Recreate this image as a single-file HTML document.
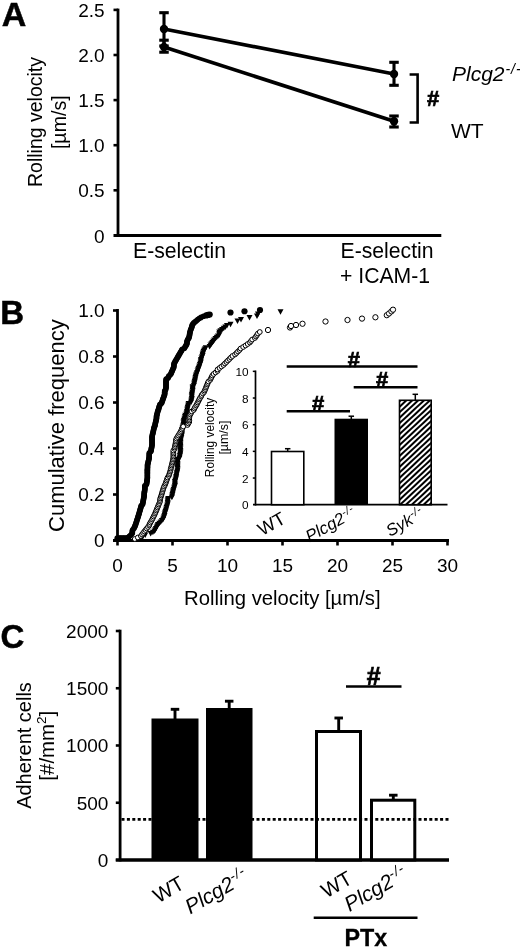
<!DOCTYPE html>
<html><head><meta charset="utf-8"><title>Figure</title>
<style>html,body{margin:0;padding:0;background:#fff;}svg{display:block;}</style>
</head><body>
<svg width="520" height="949" viewBox="0 0 520 949" font-family='"Liberation Sans", Arial, Helvetica, sans-serif' fill="#000">
<defs><filter id="soft" x="0" y="0" width="100%" height="100%" filterUnits="userSpaceOnUse"><feGaussianBlur stdDeviation="0.45"/></filter></defs>
<rect width="520" height="949" fill="#fff"/>
<g filter="url(#soft)">
<text x="1.80" y="25.90" font-size="34" text-anchor="start" font-weight="bold" font-style="normal" stroke="#000" stroke-width="0.5">A</text>
<line x1="118.00" y1="8.60" x2="118.00" y2="236.80" stroke="#000" stroke-width="2.8" />
<line x1="113.50" y1="235.40" x2="441.30" y2="235.40" stroke="#000" stroke-width="3" />
<text x="104.60" y="242.50" font-size="19" text-anchor="end" font-weight="normal" font-style="normal" >0</text>
<line x1="113.50" y1="190.30" x2="118.00" y2="190.30" stroke="#000" stroke-width="2.6" />
<text x="104.60" y="197.40" font-size="19" text-anchor="end" font-weight="normal" font-style="normal" >0.5</text>
<line x1="113.50" y1="145.20" x2="118.00" y2="145.20" stroke="#000" stroke-width="2.6" />
<text x="104.60" y="152.30" font-size="19" text-anchor="end" font-weight="normal" font-style="normal" >1.0</text>
<line x1="113.50" y1="100.10" x2="118.00" y2="100.10" stroke="#000" stroke-width="2.6" />
<text x="104.60" y="107.20" font-size="19" text-anchor="end" font-weight="normal" font-style="normal" >1.5</text>
<line x1="113.50" y1="55.00" x2="118.00" y2="55.00" stroke="#000" stroke-width="2.6" />
<text x="104.60" y="62.10" font-size="19" text-anchor="end" font-weight="normal" font-style="normal" >2.0</text>
<line x1="113.50" y1="9.90" x2="118.00" y2="9.90" stroke="#000" stroke-width="2.6" />
<text x="104.60" y="17.00" font-size="19" text-anchor="end" font-weight="normal" font-style="normal" >2.5</text>
<text x="41.80" y="122.00" font-size="19.5" text-anchor="middle" font-weight="normal" font-style="normal" transform="rotate(-90 41.80 122.00)" >Rolling velocity</text>
<text x="65.60" y="122.20" font-size="19.6" text-anchor="middle" font-weight="normal" font-style="normal" transform="rotate(-90 65.60 122.20)" >[µm/s]</text>
<text x="133.00" y="257.50" font-size="21.2" text-anchor="start" font-weight="normal" font-style="normal" >E-selectin</text>
<text x="340.50" y="257.50" font-size="21.2" text-anchor="start" font-weight="normal" font-style="normal" >E-selectin</text>
<text x="340.00" y="283.00" font-size="21.2" text-anchor="start" font-weight="normal" font-style="normal" >+ ICAM-1</text>
<line x1="164.00" y1="29.00" x2="394.00" y2="74.00" stroke="#000" stroke-width="3.7" />
<line x1="164.00" y1="47.00" x2="394.00" y2="121.30" stroke="#000" stroke-width="3.7" />
<line x1="164.00" y1="12.70" x2="164.00" y2="46.00" stroke="#000" stroke-width="3.1" />
<line x1="159.25" y1="12.70" x2="168.75" y2="12.70" stroke="#000" stroke-width="3.1" />
<line x1="159.25" y1="46.00" x2="168.75" y2="46.00" stroke="#000" stroke-width="3.1" />
<line x1="164.00" y1="40.20" x2="164.00" y2="52.20" stroke="#000" stroke-width="3.1" />
<line x1="159.25" y1="40.20" x2="168.75" y2="40.20" stroke="#000" stroke-width="3.1" />
<line x1="159.25" y1="52.20" x2="168.75" y2="52.20" stroke="#000" stroke-width="3.1" />
<line x1="394.00" y1="62.30" x2="394.00" y2="85.30" stroke="#000" stroke-width="3.1" />
<line x1="389.25" y1="62.30" x2="398.75" y2="62.30" stroke="#000" stroke-width="3.1" />
<line x1="389.25" y1="85.30" x2="398.75" y2="85.30" stroke="#000" stroke-width="3.1" />
<line x1="394.00" y1="116.00" x2="394.00" y2="127.00" stroke="#000" stroke-width="3.1" />
<line x1="389.25" y1="116.00" x2="398.75" y2="116.00" stroke="#000" stroke-width="3.1" />
<line x1="389.25" y1="127.00" x2="398.75" y2="127.00" stroke="#000" stroke-width="3.1" />
<circle cx="164" cy="29" r="4.2" fill="#000"/>
<circle cx="164" cy="47" r="4.2" fill="#000"/>
<circle cx="394" cy="74" r="4.2" fill="#000"/>
<circle cx="394" cy="121.3" r="4.2" fill="#000"/>
<path d="M409.6 74.5 H417.6 V122.5 H409.6" fill="none" stroke="#000" stroke-width="2.6"/>
<text x="433.00" y="105.70" font-size="22" text-anchor="middle" font-weight="bold" font-style="normal" stroke="#000" stroke-width="0.7">#</text>
<text x="452" y="81.3" font-size="21" font-style="italic">Plcg2<tspan font-size="14" dy="-7.5" dx="1" letter-spacing="0.9">-/-</tspan></text>
<text x="451.00" y="137.50" font-size="21" text-anchor="start" font-weight="normal" font-style="normal" >WT</text>
<text x="0.30" y="324.20" font-size="33" text-anchor="start" font-weight="bold" font-style="normal" stroke="#000" stroke-width="0.5">B</text>
<line x1="117.50" y1="309.00" x2="117.50" y2="541.90" stroke="#000" stroke-width="2.8" />
<line x1="113.00" y1="540.50" x2="449.00" y2="540.50" stroke="#000" stroke-width="3" />
<text x="104.70" y="547.00" font-size="19" text-anchor="end" font-weight="normal" font-style="normal" >0</text>
<line x1="113.00" y1="494.50" x2="117.50" y2="494.50" stroke="#000" stroke-width="2.6" />
<text x="104.70" y="501.00" font-size="19" text-anchor="end" font-weight="normal" font-style="normal" >0.2</text>
<line x1="113.00" y1="448.50" x2="117.50" y2="448.50" stroke="#000" stroke-width="2.6" />
<text x="104.70" y="455.00" font-size="19" text-anchor="end" font-weight="normal" font-style="normal" >0.4</text>
<line x1="113.00" y1="402.50" x2="117.50" y2="402.50" stroke="#000" stroke-width="2.6" />
<text x="104.70" y="409.00" font-size="19" text-anchor="end" font-weight="normal" font-style="normal" >0.6</text>
<line x1="113.00" y1="356.50" x2="117.50" y2="356.50" stroke="#000" stroke-width="2.6" />
<text x="104.70" y="363.00" font-size="19" text-anchor="end" font-weight="normal" font-style="normal" >0.8</text>
<line x1="113.00" y1="310.50" x2="117.50" y2="310.50" stroke="#000" stroke-width="2.6" />
<text x="104.70" y="317.00" font-size="19" text-anchor="end" font-weight="normal" font-style="normal" >1.0</text>
<line x1="117.50" y1="540.50" x2="117.50" y2="545.50" stroke="#000" stroke-width="2.6" />
<text x="117.50" y="571.80" font-size="19" text-anchor="middle" font-weight="normal" font-style="normal" >0</text>
<line x1="172.50" y1="540.50" x2="172.50" y2="545.50" stroke="#000" stroke-width="2.6" />
<text x="172.50" y="571.80" font-size="19" text-anchor="middle" font-weight="normal" font-style="normal" >5</text>
<line x1="227.50" y1="540.50" x2="227.50" y2="545.50" stroke="#000" stroke-width="2.6" />
<text x="227.50" y="571.80" font-size="19" text-anchor="middle" font-weight="normal" font-style="normal" >10</text>
<line x1="282.50" y1="540.50" x2="282.50" y2="545.50" stroke="#000" stroke-width="2.6" />
<text x="282.50" y="571.80" font-size="19" text-anchor="middle" font-weight="normal" font-style="normal" >15</text>
<line x1="337.50" y1="540.50" x2="337.50" y2="545.50" stroke="#000" stroke-width="2.6" />
<text x="337.50" y="571.80" font-size="19" text-anchor="middle" font-weight="normal" font-style="normal" >20</text>
<line x1="392.50" y1="540.50" x2="392.50" y2="545.50" stroke="#000" stroke-width="2.6" />
<text x="392.50" y="571.80" font-size="19" text-anchor="middle" font-weight="normal" font-style="normal" >25</text>
<line x1="447.50" y1="540.50" x2="447.50" y2="545.50" stroke="#000" stroke-width="2.6" />
<text x="447.50" y="571.80" font-size="19" text-anchor="middle" font-weight="normal" font-style="normal" >30</text>
<text x="63.70" y="425.60" font-size="22" text-anchor="middle" font-weight="normal" font-style="normal" transform="rotate(-90 63.70 425.60)" >Cumulative frequency</text>
<text x="282.30" y="605.00" font-size="20.3" text-anchor="middle" font-weight="normal" font-style="normal" >Rolling velocity [µm/s]</text>
<g>
<path d="M137.73 535.00 L143.73 535.00 L140.73 540.50 Z" fill="#000"/>
<path d="M139.97 533.70 L145.97 533.70 L142.97 539.20 Z" fill="#000"/>
<path d="M142.22 532.40 L148.22 532.40 L145.22 537.90 Z" fill="#000"/>
<path d="M147.67 531.10 L153.67 531.10 L150.67 536.60 Z" fill="#000"/>
<path d="M149.88 529.80 L155.88 529.80 L152.88 535.30 Z" fill="#000"/>
<path d="M151.51 528.50 L157.51 528.50 L154.51 534.00 Z" fill="#000"/>
<path d="M152.21 527.20 L158.21 527.20 L155.21 532.70 Z" fill="#000"/>
<path d="M152.92 525.90 L158.92 525.90 L155.92 531.40 Z" fill="#000"/>
<path d="M153.63 524.60 L159.63 524.60 L156.63 530.10 Z" fill="#000"/>
<path d="M154.44 523.30 L160.44 523.30 L157.44 528.80 Z" fill="#000"/>
<path d="M154.98 522.00 L160.98 522.00 L157.98 527.50 Z" fill="#000"/>
<path d="M156.35 520.70 L162.35 520.70 L159.35 526.20 Z" fill="#000"/>
<path d="M157.68 519.40 L163.68 519.40 L160.68 524.90 Z" fill="#000"/>
<path d="M158.89 518.10 L164.89 518.10 L161.89 523.60 Z" fill="#000"/>
<path d="M160.11 516.80 L166.11 516.80 L163.11 522.30 Z" fill="#000"/>
<path d="M160.60 515.50 L166.60 515.50 L163.60 521.00 Z" fill="#000"/>
<path d="M161.04 514.20 L167.04 514.20 L164.04 519.70 Z" fill="#000"/>
<path d="M161.47 512.90 L167.47 512.90 L164.47 518.40 Z" fill="#000"/>
<path d="M161.64 511.60 L167.64 511.60 L164.64 517.10 Z" fill="#000"/>
<path d="M162.07 510.30 L168.07 510.30 L165.07 515.80 Z" fill="#000"/>
<path d="M162.47 509.00 L168.47 509.00 L165.47 514.50 Z" fill="#000"/>
<path d="M162.84 507.70 L168.84 507.70 L165.84 513.20 Z" fill="#000"/>
<path d="M163.22 506.40 L169.22 506.40 L166.22 511.90 Z" fill="#000"/>
<path d="M163.59 505.10 L169.59 505.10 L166.59 510.60 Z" fill="#000"/>
<path d="M163.96 503.80 L169.96 503.80 L166.96 509.30 Z" fill="#000"/>
<path d="M164.34 502.50 L170.34 502.50 L167.34 508.00 Z" fill="#000"/>
<path d="M164.71 501.20 L170.71 501.20 L167.71 506.70 Z" fill="#000"/>
<path d="M164.71 499.90 L170.71 499.90 L167.71 505.40 Z" fill="#000"/>
<path d="M164.71 498.60 L170.71 498.60 L167.71 504.10 Z" fill="#000"/>
<path d="M164.93 497.30 L170.93 497.30 L167.93 502.80 Z" fill="#000"/>
<path d="M165.21 496.00 L171.21 496.00 L168.21 501.50 Z" fill="#000"/>
<path d="M168.86 494.70 L174.86 494.70 L171.86 500.20 Z" fill="#000"/>
<path d="M169.14 493.40 L175.14 493.40 L172.14 498.90 Z" fill="#000"/>
<path d="M169.42 492.10 L175.42 492.10 L172.42 497.60 Z" fill="#000"/>
<path d="M169.70 490.80 L175.70 490.80 L172.70 496.30 Z" fill="#000"/>
<path d="M169.98 489.50 L175.98 489.50 L172.98 495.00 Z" fill="#000"/>
<path d="M170.27 488.20 L176.27 488.20 L173.27 493.70 Z" fill="#000"/>
<path d="M170.68 486.90 L176.68 486.90 L173.68 492.40 Z" fill="#000"/>
<path d="M171.10 485.60 L177.10 485.60 L174.10 491.10 Z" fill="#000"/>
<path d="M171.51 484.30 L177.51 484.30 L174.51 489.80 Z" fill="#000"/>
<path d="M171.92 483.00 L177.92 483.00 L174.92 488.50 Z" fill="#000"/>
<path d="M171.92 481.70 L177.92 481.70 L174.92 487.20 Z" fill="#000"/>
<path d="M171.92 480.40 L177.92 480.40 L174.92 485.90 Z" fill="#000"/>
<path d="M171.92 479.10 L177.92 479.10 L174.92 484.60 Z" fill="#000"/>
<path d="M172.34 477.80 L178.34 477.80 L175.34 483.30 Z" fill="#000"/>
<path d="M172.75 476.50 L178.75 476.50 L175.75 482.00 Z" fill="#000"/>
<path d="M173.08 475.20 L179.08 475.20 L176.08 480.70 Z" fill="#000"/>
<path d="M173.17 473.90 L179.17 473.90 L176.17 479.40 Z" fill="#000"/>
<path d="M173.45 472.60 L179.45 472.60 L176.45 478.10 Z" fill="#000"/>
<path d="M173.73 471.30 L179.73 471.30 L176.73 476.80 Z" fill="#000"/>
<path d="M174.01 470.00 L180.01 470.00 L177.01 475.50 Z" fill="#000"/>
<path d="M174.29 468.70 L180.29 468.70 L177.29 474.20 Z" fill="#000"/>
<path d="M174.57 467.40 L180.57 467.40 L177.57 472.90 Z" fill="#000"/>
<path d="M174.57 466.10 L180.57 466.10 L177.57 471.60 Z" fill="#000"/>
<path d="M174.57 464.80 L180.57 464.80 L177.57 470.30 Z" fill="#000"/>
<path d="M174.57 463.50 L180.57 463.50 L177.57 469.00 Z" fill="#000"/>
<path d="M174.57 462.20 L180.57 462.20 L177.57 467.70 Z" fill="#000"/>
<path d="M174.57 460.90 L180.57 460.90 L177.57 466.40 Z" fill="#000"/>
<path d="M174.57 459.60 L180.57 459.60 L177.57 465.10 Z" fill="#000"/>
<path d="M174.59 458.30 L180.59 458.30 L177.59 463.80 Z" fill="#000"/>
<path d="M174.85 457.00 L180.85 457.00 L177.85 462.50 Z" fill="#000"/>
<path d="M176.41 455.70 L182.41 455.70 L179.41 461.20 Z" fill="#000"/>
<path d="M176.66 454.40 L182.66 454.40 L179.66 459.90 Z" fill="#000"/>
<path d="M176.91 453.10 L182.91 453.10 L179.91 458.60 Z" fill="#000"/>
<path d="M177.17 451.80 L183.17 451.80 L180.17 457.30 Z" fill="#000"/>
<path d="M177.42 450.50 L183.42 450.50 L180.42 456.00 Z" fill="#000"/>
<path d="M177.42 449.20 L183.42 449.20 L180.42 454.70 Z" fill="#000"/>
<path d="M177.42 447.90 L183.42 447.90 L180.42 453.40 Z" fill="#000"/>
<path d="M177.42 446.60 L183.42 446.60 L180.42 452.10 Z" fill="#000"/>
<path d="M177.42 445.30 L183.42 445.30 L180.42 450.80 Z" fill="#000"/>
<path d="M177.42 444.00 L183.42 444.00 L180.42 449.50 Z" fill="#000"/>
<path d="M177.42 442.70 L183.42 442.70 L180.42 448.20 Z" fill="#000"/>
<path d="M177.42 441.40 L183.42 441.40 L180.42 446.90 Z" fill="#000"/>
<path d="M177.49 440.10 L183.49 440.10 L180.49 445.60 Z" fill="#000"/>
<path d="M177.56 438.80 L183.56 438.80 L180.56 444.30 Z" fill="#000"/>
<path d="M177.64 437.50 L183.64 437.50 L180.64 443.00 Z" fill="#000"/>
<path d="M177.96 436.20 L183.96 436.20 L180.96 441.70 Z" fill="#000"/>
<path d="M178.29 434.90 L184.29 434.90 L181.29 440.40 Z" fill="#000"/>
<path d="M178.61 433.60 L184.61 433.60 L181.61 439.10 Z" fill="#000"/>
<path d="M178.94 432.30 L184.94 432.30 L181.94 437.80 Z" fill="#000"/>
<path d="M178.94 431.00 L184.94 431.00 L181.94 436.50 Z" fill="#000"/>
<path d="M178.94 429.70 L184.94 429.70 L181.94 435.20 Z" fill="#000"/>
<path d="M178.94 428.40 L184.94 428.40 L181.94 433.90 Z" fill="#000"/>
<path d="M179.07 427.10 L185.07 427.10 L182.07 432.60 Z" fill="#000"/>
<path d="M179.44 425.80 L185.44 425.80 L182.44 431.30 Z" fill="#000"/>
<path d="M179.82 424.50 L185.82 424.50 L182.82 430.00 Z" fill="#000"/>
<path d="M180.20 423.20 L186.20 423.20 L183.20 428.70 Z" fill="#000"/>
<path d="M180.58 421.90 L186.58 421.90 L183.58 427.40 Z" fill="#000"/>
<path d="M180.58 420.60 L186.58 420.60 L183.58 426.10 Z" fill="#000"/>
<path d="M180.58 419.30 L186.58 419.30 L183.58 424.80 Z" fill="#000"/>
<path d="M180.91 418.00 L186.91 418.00 L183.91 423.50 Z" fill="#000"/>
<path d="M181.29 416.70 L187.29 416.70 L184.29 422.20 Z" fill="#000"/>
<path d="M181.67 415.40 L187.67 415.40 L184.67 420.90 Z" fill="#000"/>
<path d="M182.02 414.10 L188.02 414.10 L185.02 419.60 Z" fill="#000"/>
<path d="M182.29 412.80 L188.29 412.80 L185.29 418.30 Z" fill="#000"/>
<path d="M183.39 411.50 L189.39 411.50 L186.39 417.00 Z" fill="#000"/>
<path d="M183.66 410.20 L189.66 410.20 L186.66 415.70 Z" fill="#000"/>
<path d="M183.93 408.90 L189.93 408.90 L186.93 414.40 Z" fill="#000"/>
<path d="M184.20 407.60 L190.20 407.60 L187.20 413.10 Z" fill="#000"/>
<path d="M184.47 406.30 L190.47 406.30 L187.47 411.80 Z" fill="#000"/>
<path d="M184.74 405.00 L190.74 405.00 L187.74 410.50 Z" fill="#000"/>
<path d="M185.00 403.70 L191.00 403.70 L188.00 409.20 Z" fill="#000"/>
<path d="M185.27 402.40 L191.27 402.40 L188.27 407.90 Z" fill="#000"/>
<path d="M185.54 401.10 L191.54 401.10 L188.54 406.60 Z" fill="#000"/>
<path d="M188.03 399.80 L194.03 399.80 L191.03 405.30 Z" fill="#000"/>
<path d="M188.28 398.50 L194.28 398.50 L191.28 404.00 Z" fill="#000"/>
<path d="M188.53 397.20 L194.53 397.20 L191.53 402.70 Z" fill="#000"/>
<path d="M188.78 395.90 L194.78 395.90 L191.78 401.40 Z" fill="#000"/>
<path d="M188.78 394.60 L194.78 394.60 L191.78 400.10 Z" fill="#000"/>
<path d="M188.78 393.30 L194.78 393.30 L191.78 398.80 Z" fill="#000"/>
<path d="M188.87 392.00 L194.87 392.00 L191.87 397.50 Z" fill="#000"/>
<path d="M189.12 390.70 L195.12 390.70 L192.12 396.20 Z" fill="#000"/>
<path d="M189.37 389.40 L195.37 389.40 L192.37 394.90 Z" fill="#000"/>
<path d="M189.63 388.10 L195.63 388.10 L192.63 393.60 Z" fill="#000"/>
<path d="M189.63 386.80 L195.63 386.80 L192.63 392.30 Z" fill="#000"/>
<path d="M189.63 385.50 L195.63 385.50 L192.63 391.00 Z" fill="#000"/>
<path d="M189.63 384.20 L195.63 384.20 L192.63 389.70 Z" fill="#000"/>
<path d="M190.87 382.90 L196.87 382.90 L193.87 388.40 Z" fill="#000"/>
<path d="M191.14 381.60 L197.14 381.60 L194.14 387.10 Z" fill="#000"/>
<path d="M191.42 380.30 L197.42 380.30 L194.42 385.80 Z" fill="#000"/>
<path d="M191.69 379.00 L197.69 379.00 L194.69 384.50 Z" fill="#000"/>
<path d="M191.96 377.70 L197.96 377.70 L194.96 383.20 Z" fill="#000"/>
<path d="M192.23 376.40 L198.23 376.40 L195.23 381.90 Z" fill="#000"/>
<path d="M192.50 375.10 L198.50 375.10 L195.50 380.60 Z" fill="#000"/>
<path d="M192.77 373.80 L198.77 373.80 L195.77 379.30 Z" fill="#000"/>
<path d="M193.05 372.50 L199.05 372.50 L196.05 378.00 Z" fill="#000"/>
<path d="M193.68 371.20 L199.68 371.20 L196.68 376.70 Z" fill="#000"/>
<path d="M194.14 369.90 L200.14 369.90 L197.14 375.40 Z" fill="#000"/>
<path d="M194.60 368.60 L200.60 368.60 L197.60 374.10 Z" fill="#000"/>
<path d="M195.06 367.30 L201.06 367.30 L198.06 372.80 Z" fill="#000"/>
<path d="M195.52 366.00 L201.52 366.00 L198.52 371.50 Z" fill="#000"/>
<path d="M195.98 364.70 L201.98 364.70 L198.98 370.20 Z" fill="#000"/>
<path d="M196.43 363.40 L202.43 363.40 L199.43 368.90 Z" fill="#000"/>
<path d="M196.89 362.10 L202.89 362.10 L199.89 367.60 Z" fill="#000"/>
<path d="M197.35 360.80 L203.35 360.80 L200.35 366.30 Z" fill="#000"/>
<path d="M197.81 359.50 L203.81 359.50 L200.81 365.00 Z" fill="#000"/>
<path d="M197.81 358.20 L203.81 358.20 L200.81 363.70 Z" fill="#000"/>
<path d="M197.98 356.90 L203.98 356.90 L200.98 362.40 Z" fill="#000"/>
<path d="M198.53 355.60 L204.53 355.60 L201.53 361.10 Z" fill="#000"/>
<path d="M199.08 354.30 L205.08 354.30 L202.08 359.80 Z" fill="#000"/>
<path d="M199.62 353.00 L205.62 353.00 L202.62 358.50 Z" fill="#000"/>
<path d="M199.62 351.70 L205.62 351.70 L202.62 357.20 Z" fill="#000"/>
<path d="M199.99 350.40 L205.99 350.40 L202.99 355.90 Z" fill="#000"/>
<path d="M200.54 349.10 L206.54 349.10 L203.54 354.60 Z" fill="#000"/>
<path d="M201.09 347.80 L207.09 347.80 L204.09 353.30 Z" fill="#000"/>
<path d="M201.81 346.50 L207.81 346.50 L204.81 352.00 Z" fill="#000"/>
<path d="M202.73 345.20 L208.73 345.20 L205.73 350.70 Z" fill="#000"/>
<path d="M206.60 343.90 L212.60 343.90 L209.60 349.40 Z" fill="#000"/>
<path d="M207.52 342.60 L213.52 342.60 L210.52 348.10 Z" fill="#000"/>
<path d="M208.44 341.30 L214.44 341.30 L211.44 346.80 Z" fill="#000"/>
<path d="M209.37 340.00 L215.37 340.00 L212.37 345.50 Z" fill="#000"/>
<path d="M210.29 338.70 L216.29 338.70 L213.29 344.20 Z" fill="#000"/>
<path d="M211.23 337.40 L217.23 337.40 L214.23 342.90 Z" fill="#000"/>
<path d="M212.51 336.10 L218.51 336.10 L215.51 341.60 Z" fill="#000"/>
<path d="M213.78 334.80 L219.78 334.80 L216.78 340.30 Z" fill="#000"/>
<path d="M215.05 333.50 L221.05 333.50 L218.05 339.00 Z" fill="#000"/>
<path d="M216.32 332.20 L222.32 332.20 L219.32 337.70 Z" fill="#000"/>
<path d="M216.32 330.90 L222.32 330.90 L219.32 336.40 Z" fill="#000"/>
<path d="M216.32 329.60 L222.32 329.60 L219.32 335.10 Z" fill="#000"/>
<path d="M217.48 328.30 L223.48 328.30 L220.48 333.80 Z" fill="#000"/>
<path d="M219.11 327.00 L225.11 327.00 L222.11 332.50 Z" fill="#000"/>
<path d="M220.73 325.70 L226.73 325.70 L223.73 331.20 Z" fill="#000"/>
<path d="M222.36 324.40 L228.36 324.40 L225.36 329.90 Z" fill="#000"/>
<path d="M223.98 323.10 L229.98 323.10 L226.98 328.60 Z" fill="#000"/>
<path d="M227.53 321.80 L233.53 321.80 L230.53 327.30 Z" fill="#000"/>
<path d="M139.00 535.00 L145.00 535.00 L142.00 540.50 Z" fill="#000"/>
<path d="M234.50 318.50 L240.50 318.50 L237.50 324.00 Z" fill="#000"/>
<path d="M238.00 317.00 L244.00 317.00 L241.00 322.50 Z" fill="#000"/>
<path d="M246.50 315.00 L252.50 315.00 L249.50 320.50 Z" fill="#000"/>
<path d="M254.00 313.50 L260.00 313.50 L257.00 319.00 Z" fill="#000"/>
<path d="M255.00 311.50 L261.00 311.50 L258.00 317.00 Z" fill="#000"/>
<path d="M277.50 309.25 L283.50 309.25 L280.50 314.75 Z" fill="#000"/>
</g><g>
<circle cx="117.50" cy="538.30" r="3.1" fill="#000"/>
<circle cx="119.00" cy="538.30" r="3.1" fill="#000"/>
<circle cx="120.50" cy="538.30" r="3.1" fill="#000"/>
<circle cx="122.00" cy="538.30" r="3.1" fill="#000"/>
<circle cx="123.50" cy="538.30" r="3.1" fill="#000"/>
<circle cx="125.00" cy="538.30" r="3.1" fill="#000"/>
<circle cx="126.50" cy="538.30" r="3.1" fill="#000"/>
<circle cx="127.18" cy="538.50" r="2.8" fill="#000"/>
<circle cx="128.33" cy="537.40" r="2.8" fill="#000"/>
<circle cx="129.48" cy="536.30" r="2.8" fill="#000"/>
<circle cx="130.63" cy="535.20" r="2.8" fill="#000"/>
<circle cx="131.77" cy="534.10" r="2.8" fill="#000"/>
<circle cx="132.35" cy="533.00" r="2.8" fill="#000"/>
<circle cx="132.35" cy="531.90" r="2.8" fill="#000"/>
<circle cx="132.35" cy="530.80" r="2.8" fill="#000"/>
<circle cx="132.79" cy="529.70" r="2.8" fill="#000"/>
<circle cx="133.85" cy="528.60" r="2.8" fill="#000"/>
<circle cx="134.37" cy="527.50" r="2.8" fill="#000"/>
<circle cx="134.89" cy="526.40" r="2.8" fill="#000"/>
<circle cx="135.32" cy="525.30" r="2.8" fill="#000"/>
<circle cx="135.68" cy="524.20" r="2.8" fill="#000"/>
<circle cx="136.05" cy="523.10" r="2.8" fill="#000"/>
<circle cx="136.42" cy="522.00" r="2.8" fill="#000"/>
<circle cx="136.75" cy="520.90" r="2.8" fill="#000"/>
<circle cx="137.12" cy="519.80" r="2.8" fill="#000"/>
<circle cx="137.48" cy="518.70" r="2.8" fill="#000"/>
<circle cx="137.85" cy="517.60" r="2.8" fill="#000"/>
<circle cx="138.19" cy="516.50" r="2.8" fill="#000"/>
<circle cx="138.52" cy="515.40" r="2.8" fill="#000"/>
<circle cx="138.84" cy="514.30" r="2.8" fill="#000"/>
<circle cx="139.16" cy="513.20" r="2.8" fill="#000"/>
<circle cx="139.48" cy="512.10" r="2.8" fill="#000"/>
<circle cx="139.80" cy="511.00" r="2.8" fill="#000"/>
<circle cx="140.12" cy="509.90" r="2.8" fill="#000"/>
<circle cx="140.44" cy="508.80" r="2.8" fill="#000"/>
<circle cx="140.76" cy="507.70" r="2.8" fill="#000"/>
<circle cx="141.08" cy="506.60" r="2.8" fill="#000"/>
<circle cx="141.35" cy="505.50" r="2.8" fill="#000"/>
<circle cx="142.54" cy="504.40" r="2.8" fill="#000"/>
<circle cx="142.75" cy="503.30" r="2.8" fill="#000"/>
<circle cx="142.96" cy="502.20" r="2.8" fill="#000"/>
<circle cx="143.17" cy="501.10" r="2.8" fill="#000"/>
<circle cx="143.37" cy="500.00" r="2.8" fill="#000"/>
<circle cx="143.58" cy="498.90" r="2.8" fill="#000"/>
<circle cx="143.79" cy="497.80" r="2.8" fill="#000"/>
<circle cx="144.00" cy="496.70" r="2.8" fill="#000"/>
<circle cx="144.20" cy="495.60" r="2.8" fill="#000"/>
<circle cx="144.20" cy="494.50" r="2.8" fill="#000"/>
<circle cx="144.22" cy="493.40" r="2.8" fill="#000"/>
<circle cx="144.39" cy="492.30" r="2.8" fill="#000"/>
<circle cx="144.55" cy="491.20" r="2.8" fill="#000"/>
<circle cx="144.72" cy="490.10" r="2.8" fill="#000"/>
<circle cx="144.88" cy="489.00" r="2.8" fill="#000"/>
<circle cx="144.88" cy="487.90" r="2.8" fill="#000"/>
<circle cx="144.88" cy="486.80" r="2.8" fill="#000"/>
<circle cx="144.88" cy="485.70" r="2.8" fill="#000"/>
<circle cx="146.42" cy="484.60" r="2.8" fill="#000"/>
<circle cx="146.58" cy="483.50" r="2.8" fill="#000"/>
<circle cx="146.75" cy="482.40" r="2.8" fill="#000"/>
<circle cx="146.91" cy="481.30" r="2.8" fill="#000"/>
<circle cx="147.08" cy="480.20" r="2.8" fill="#000"/>
<circle cx="147.25" cy="479.10" r="2.8" fill="#000"/>
<circle cx="147.39" cy="478.00" r="2.8" fill="#000"/>
<circle cx="147.39" cy="476.90" r="2.8" fill="#000"/>
<circle cx="147.39" cy="475.80" r="2.8" fill="#000"/>
<circle cx="147.39" cy="474.70" r="2.8" fill="#000"/>
<circle cx="147.39" cy="473.60" r="2.8" fill="#000"/>
<circle cx="147.39" cy="472.50" r="2.8" fill="#000"/>
<circle cx="147.39" cy="471.40" r="2.8" fill="#000"/>
<circle cx="147.39" cy="470.30" r="2.8" fill="#000"/>
<circle cx="147.39" cy="469.20" r="2.8" fill="#000"/>
<circle cx="147.51" cy="468.10" r="2.8" fill="#000"/>
<circle cx="147.51" cy="467.00" r="2.8" fill="#000"/>
<circle cx="147.51" cy="465.90" r="2.8" fill="#000"/>
<circle cx="147.51" cy="464.80" r="2.8" fill="#000"/>
<circle cx="147.91" cy="463.70" r="2.8" fill="#000"/>
<circle cx="148.12" cy="462.60" r="2.8" fill="#000"/>
<circle cx="148.32" cy="461.50" r="2.8" fill="#000"/>
<circle cx="148.61" cy="460.40" r="2.8" fill="#000"/>
<circle cx="148.82" cy="459.30" r="2.8" fill="#000"/>
<circle cx="149.02" cy="458.20" r="2.8" fill="#000"/>
<circle cx="149.23" cy="457.10" r="2.8" fill="#000"/>
<circle cx="149.23" cy="456.00" r="2.8" fill="#000"/>
<circle cx="149.23" cy="454.90" r="2.8" fill="#000"/>
<circle cx="149.27" cy="453.80" r="2.8" fill="#000"/>
<circle cx="149.47" cy="452.70" r="2.8" fill="#000"/>
<circle cx="150.83" cy="451.60" r="2.8" fill="#000"/>
<circle cx="151.04" cy="450.50" r="2.8" fill="#000"/>
<circle cx="151.24" cy="449.40" r="2.8" fill="#000"/>
<circle cx="151.44" cy="448.30" r="2.8" fill="#000"/>
<circle cx="151.64" cy="447.20" r="2.8" fill="#000"/>
<circle cx="151.85" cy="446.10" r="2.8" fill="#000"/>
<circle cx="152.05" cy="445.00" r="2.8" fill="#000"/>
<circle cx="152.05" cy="443.90" r="2.8" fill="#000"/>
<circle cx="152.05" cy="442.80" r="2.8" fill="#000"/>
<circle cx="152.05" cy="441.70" r="2.8" fill="#000"/>
<circle cx="152.05" cy="440.60" r="2.8" fill="#000"/>
<circle cx="152.05" cy="439.50" r="2.8" fill="#000"/>
<circle cx="152.05" cy="438.40" r="2.8" fill="#000"/>
<circle cx="152.05" cy="437.30" r="2.8" fill="#000"/>
<circle cx="152.15" cy="436.20" r="2.8" fill="#000"/>
<circle cx="152.38" cy="435.10" r="2.8" fill="#000"/>
<circle cx="152.60" cy="434.00" r="2.8" fill="#000"/>
<circle cx="152.98" cy="432.90" r="2.8" fill="#000"/>
<circle cx="153.21" cy="431.80" r="2.8" fill="#000"/>
<circle cx="153.43" cy="430.70" r="2.8" fill="#000"/>
<circle cx="153.65" cy="429.60" r="2.8" fill="#000"/>
<circle cx="153.87" cy="428.50" r="2.8" fill="#000"/>
<circle cx="154.09" cy="427.40" r="2.8" fill="#000"/>
<circle cx="154.77" cy="426.30" r="2.8" fill="#000"/>
<circle cx="154.99" cy="425.20" r="2.8" fill="#000"/>
<circle cx="155.21" cy="424.10" r="2.8" fill="#000"/>
<circle cx="155.44" cy="423.00" r="2.8" fill="#000"/>
<circle cx="155.70" cy="421.90" r="2.8" fill="#000"/>
<circle cx="155.97" cy="420.80" r="2.8" fill="#000"/>
<circle cx="156.24" cy="419.70" r="2.8" fill="#000"/>
<circle cx="156.51" cy="418.60" r="2.8" fill="#000"/>
<circle cx="156.51" cy="417.50" r="2.8" fill="#000"/>
<circle cx="156.51" cy="416.40" r="2.8" fill="#000"/>
<circle cx="156.78" cy="415.30" r="2.8" fill="#000"/>
<circle cx="157.05" cy="414.20" r="2.8" fill="#000"/>
<circle cx="157.32" cy="413.10" r="2.8" fill="#000"/>
<circle cx="157.60" cy="412.00" r="2.8" fill="#000"/>
<circle cx="157.87" cy="410.90" r="2.8" fill="#000"/>
<circle cx="158.43" cy="409.80" r="2.8" fill="#000"/>
<circle cx="158.70" cy="408.70" r="2.8" fill="#000"/>
<circle cx="158.98" cy="407.60" r="2.8" fill="#000"/>
<circle cx="159.33" cy="406.50" r="2.8" fill="#000"/>
<circle cx="159.72" cy="405.40" r="2.8" fill="#000"/>
<circle cx="160.12" cy="404.30" r="2.8" fill="#000"/>
<circle cx="161.54" cy="403.20" r="2.8" fill="#000"/>
<circle cx="161.93" cy="402.10" r="2.8" fill="#000"/>
<circle cx="162.32" cy="401.00" r="2.8" fill="#000"/>
<circle cx="162.71" cy="399.90" r="2.8" fill="#000"/>
<circle cx="163.10" cy="398.80" r="2.8" fill="#000"/>
<circle cx="163.49" cy="397.70" r="2.8" fill="#000"/>
<circle cx="163.88" cy="396.60" r="2.8" fill="#000"/>
<circle cx="164.27" cy="395.50" r="2.8" fill="#000"/>
<circle cx="164.67" cy="394.40" r="2.8" fill="#000"/>
<circle cx="164.67" cy="393.30" r="2.8" fill="#000"/>
<circle cx="164.67" cy="392.20" r="2.8" fill="#000"/>
<circle cx="164.67" cy="391.10" r="2.8" fill="#000"/>
<circle cx="165.47" cy="390.00" r="2.8" fill="#000"/>
<circle cx="165.75" cy="388.90" r="2.8" fill="#000"/>
<circle cx="166.03" cy="387.80" r="2.8" fill="#000"/>
<circle cx="166.03" cy="386.70" r="2.8" fill="#000"/>
<circle cx="166.03" cy="385.60" r="2.8" fill="#000"/>
<circle cx="166.03" cy="384.50" r="2.8" fill="#000"/>
<circle cx="166.03" cy="383.40" r="2.8" fill="#000"/>
<circle cx="166.03" cy="382.30" r="2.8" fill="#000"/>
<circle cx="166.03" cy="381.20" r="2.8" fill="#000"/>
<circle cx="166.03" cy="380.10" r="2.8" fill="#000"/>
<circle cx="166.24" cy="379.00" r="2.8" fill="#000"/>
<circle cx="168.08" cy="377.90" r="2.8" fill="#000"/>
<circle cx="168.56" cy="376.80" r="2.8" fill="#000"/>
<circle cx="169.04" cy="375.70" r="2.8" fill="#000"/>
<circle cx="170.55" cy="374.60" r="2.8" fill="#000"/>
<circle cx="171.03" cy="373.50" r="2.8" fill="#000"/>
<circle cx="171.50" cy="372.40" r="2.8" fill="#000"/>
<circle cx="171.98" cy="371.30" r="2.8" fill="#000"/>
<circle cx="172.45" cy="370.20" r="2.8" fill="#000"/>
<circle cx="172.93" cy="369.10" r="2.8" fill="#000"/>
<circle cx="173.40" cy="368.00" r="2.8" fill="#000"/>
<circle cx="173.88" cy="366.90" r="2.8" fill="#000"/>
<circle cx="173.88" cy="365.80" r="2.8" fill="#000"/>
<circle cx="173.88" cy="364.70" r="2.8" fill="#000"/>
<circle cx="174.09" cy="363.60" r="2.8" fill="#000"/>
<circle cx="174.64" cy="362.50" r="2.8" fill="#000"/>
<circle cx="175.28" cy="361.40" r="2.8" fill="#000"/>
<circle cx="175.92" cy="360.30" r="2.8" fill="#000"/>
<circle cx="176.53" cy="359.20" r="2.8" fill="#000"/>
<circle cx="177.17" cy="358.10" r="2.8" fill="#000"/>
<circle cx="177.81" cy="357.00" r="2.8" fill="#000"/>
<circle cx="178.45" cy="355.90" r="2.8" fill="#000"/>
<circle cx="179.09" cy="354.80" r="2.8" fill="#000"/>
<circle cx="179.74" cy="353.70" r="2.8" fill="#000"/>
<circle cx="180.38" cy="352.60" r="2.8" fill="#000"/>
<circle cx="181.02" cy="351.50" r="2.8" fill="#000"/>
<circle cx="181.66" cy="350.40" r="2.8" fill="#000"/>
<circle cx="182.30" cy="349.30" r="2.8" fill="#000"/>
<circle cx="184.39" cy="348.20" r="2.8" fill="#000"/>
<circle cx="185.03" cy="347.10" r="2.8" fill="#000"/>
<circle cx="185.67" cy="346.00" r="2.8" fill="#000"/>
<circle cx="186.31" cy="344.90" r="2.8" fill="#000"/>
<circle cx="186.96" cy="343.80" r="2.8" fill="#000"/>
<circle cx="186.96" cy="342.70" r="2.8" fill="#000"/>
<circle cx="186.96" cy="341.60" r="2.8" fill="#000"/>
<circle cx="187.38" cy="340.50" r="2.8" fill="#000"/>
<circle cx="187.84" cy="339.40" r="2.8" fill="#000"/>
<circle cx="188.73" cy="338.30" r="2.8" fill="#000"/>
<circle cx="189.03" cy="337.20" r="2.8" fill="#000"/>
<circle cx="189.33" cy="336.10" r="2.8" fill="#000"/>
<circle cx="189.63" cy="335.00" r="2.8" fill="#000"/>
<circle cx="189.63" cy="333.90" r="2.8" fill="#000"/>
<circle cx="189.87" cy="332.80" r="2.8" fill="#000"/>
<circle cx="190.17" cy="331.70" r="2.8" fill="#000"/>
<circle cx="190.47" cy="330.60" r="2.8" fill="#000"/>
<circle cx="190.77" cy="329.50" r="2.8" fill="#000"/>
<circle cx="191.23" cy="328.40" r="2.8" fill="#000"/>
<circle cx="191.83" cy="327.30" r="2.8" fill="#000"/>
<circle cx="191.83" cy="326.20" r="2.8" fill="#000"/>
<circle cx="192.27" cy="325.10" r="2.8" fill="#000"/>
<circle cx="192.87" cy="324.00" r="2.8" fill="#000"/>
<circle cx="193.84" cy="322.90" r="2.8" fill="#000"/>
<circle cx="195.13" cy="321.80" r="2.8" fill="#000"/>
<circle cx="196.41" cy="320.70" r="2.8" fill="#000"/>
<circle cx="197.81" cy="319.60" r="2.8" fill="#000"/>
<circle cx="199.24" cy="318.50" r="2.8" fill="#000"/>
<circle cx="201.03" cy="317.40" r="2.8" fill="#000"/>
<circle cx="203.48" cy="316.30" r="2.8" fill="#000"/>
<circle cx="207.39" cy="315.20" r="2.8" fill="#000"/>
<circle cx="206.30" cy="315.40" r="3.1" fill="#000"/>
<circle cx="208.00" cy="314.90" r="3.1" fill="#000"/>
<circle cx="209.70" cy="314.50" r="3.1" fill="#000"/>
<circle cx="230.50" cy="312.50" r="3.1" fill="#000"/>
<circle cx="244.50" cy="311.25" r="3.1" fill="#000"/>
<circle cx="260.00" cy="310.00" r="3.1" fill="#000"/>
</g><g>
<circle cx="134.79" cy="539.00" r="2.4" fill="#fff" stroke="#000" stroke-width="1.0"/>
<circle cx="137.84" cy="537.50" r="2.4" fill="#fff" stroke="#000" stroke-width="1.0"/>
<circle cx="140.89" cy="536.00" r="2.4" fill="#fff" stroke="#000" stroke-width="1.0"/>
<circle cx="142.04" cy="534.50" r="2.4" fill="#fff" stroke="#000" stroke-width="1.0"/>
<circle cx="143.19" cy="533.00" r="2.4" fill="#fff" stroke="#000" stroke-width="1.0"/>
<circle cx="144.34" cy="531.50" r="2.4" fill="#fff" stroke="#000" stroke-width="1.0"/>
<circle cx="145.49" cy="530.00" r="2.4" fill="#fff" stroke="#000" stroke-width="1.0"/>
<circle cx="146.73" cy="528.50" r="2.4" fill="#fff" stroke="#000" stroke-width="1.0"/>
<circle cx="147.97" cy="527.00" r="2.4" fill="#fff" stroke="#000" stroke-width="1.0"/>
<circle cx="149.21" cy="525.50" r="2.4" fill="#fff" stroke="#000" stroke-width="1.0"/>
<circle cx="149.55" cy="524.00" r="2.4" fill="#fff" stroke="#000" stroke-width="1.0"/>
<circle cx="150.44" cy="522.50" r="2.4" fill="#fff" stroke="#000" stroke-width="1.0"/>
<circle cx="151.33" cy="521.00" r="2.4" fill="#fff" stroke="#000" stroke-width="1.0"/>
<circle cx="152.17" cy="519.50" r="2.4" fill="#fff" stroke="#000" stroke-width="1.0"/>
<circle cx="152.89" cy="518.00" r="2.4" fill="#fff" stroke="#000" stroke-width="1.0"/>
<circle cx="153.62" cy="516.50" r="2.4" fill="#fff" stroke="#000" stroke-width="1.0"/>
<circle cx="154.36" cy="515.00" r="2.4" fill="#fff" stroke="#000" stroke-width="1.0"/>
<circle cx="155.06" cy="513.50" r="2.4" fill="#fff" stroke="#000" stroke-width="1.0"/>
<circle cx="155.68" cy="512.00" r="2.4" fill="#fff" stroke="#000" stroke-width="1.0"/>
<circle cx="156.30" cy="510.50" r="2.4" fill="#fff" stroke="#000" stroke-width="1.0"/>
<circle cx="156.92" cy="509.00" r="2.4" fill="#fff" stroke="#000" stroke-width="1.0"/>
<circle cx="157.54" cy="507.50" r="2.4" fill="#fff" stroke="#000" stroke-width="1.0"/>
<circle cx="158.16" cy="506.00" r="2.4" fill="#fff" stroke="#000" stroke-width="1.0"/>
<circle cx="158.78" cy="504.50" r="2.4" fill="#fff" stroke="#000" stroke-width="1.0"/>
<circle cx="159.41" cy="503.00" r="2.4" fill="#fff" stroke="#000" stroke-width="1.0"/>
<circle cx="160.05" cy="501.50" r="2.4" fill="#fff" stroke="#000" stroke-width="1.0"/>
<circle cx="160.05" cy="500.00" r="2.4" fill="#fff" stroke="#000" stroke-width="1.0"/>
<circle cx="160.19" cy="498.50" r="2.4" fill="#fff" stroke="#000" stroke-width="1.0"/>
<circle cx="160.82" cy="497.00" r="2.4" fill="#fff" stroke="#000" stroke-width="1.0"/>
<circle cx="161.27" cy="495.50" r="2.4" fill="#fff" stroke="#000" stroke-width="1.0"/>
<circle cx="161.71" cy="494.00" r="2.4" fill="#fff" stroke="#000" stroke-width="1.0"/>
<circle cx="162.15" cy="492.50" r="2.4" fill="#fff" stroke="#000" stroke-width="1.0"/>
<circle cx="162.59" cy="491.00" r="2.4" fill="#fff" stroke="#000" stroke-width="1.0"/>
<circle cx="163.04" cy="489.50" r="2.4" fill="#fff" stroke="#000" stroke-width="1.0"/>
<circle cx="163.55" cy="488.00" r="2.4" fill="#fff" stroke="#000" stroke-width="1.0"/>
<circle cx="164.08" cy="486.50" r="2.4" fill="#fff" stroke="#000" stroke-width="1.0"/>
<circle cx="164.99" cy="485.00" r="2.4" fill="#fff" stroke="#000" stroke-width="1.0"/>
<circle cx="165.52" cy="483.50" r="2.4" fill="#fff" stroke="#000" stroke-width="1.0"/>
<circle cx="166.05" cy="482.00" r="2.4" fill="#fff" stroke="#000" stroke-width="1.0"/>
<circle cx="166.58" cy="480.50" r="2.4" fill="#fff" stroke="#000" stroke-width="1.0"/>
<circle cx="167.12" cy="479.00" r="2.4" fill="#fff" stroke="#000" stroke-width="1.0"/>
<circle cx="167.61" cy="477.50" r="2.4" fill="#fff" stroke="#000" stroke-width="1.0"/>
<circle cx="168.73" cy="476.00" r="2.4" fill="#fff" stroke="#000" stroke-width="1.0"/>
<circle cx="169.19" cy="474.50" r="2.4" fill="#fff" stroke="#000" stroke-width="1.0"/>
<circle cx="169.66" cy="473.00" r="2.4" fill="#fff" stroke="#000" stroke-width="1.0"/>
<circle cx="170.13" cy="471.50" r="2.4" fill="#fff" stroke="#000" stroke-width="1.0"/>
<circle cx="170.60" cy="470.00" r="2.4" fill="#fff" stroke="#000" stroke-width="1.0"/>
<circle cx="170.80" cy="468.50" r="2.4" fill="#fff" stroke="#000" stroke-width="1.0"/>
<circle cx="171.27" cy="467.00" r="2.4" fill="#fff" stroke="#000" stroke-width="1.0"/>
<circle cx="171.69" cy="465.50" r="2.4" fill="#fff" stroke="#000" stroke-width="1.0"/>
<circle cx="172.02" cy="464.00" r="2.4" fill="#fff" stroke="#000" stroke-width="1.0"/>
<circle cx="172.35" cy="462.50" r="2.4" fill="#fff" stroke="#000" stroke-width="1.0"/>
<circle cx="172.68" cy="461.00" r="2.4" fill="#fff" stroke="#000" stroke-width="1.0"/>
<circle cx="173.01" cy="459.50" r="2.4" fill="#fff" stroke="#000" stroke-width="1.0"/>
<circle cx="173.34" cy="458.00" r="2.4" fill="#fff" stroke="#000" stroke-width="1.0"/>
<circle cx="173.34" cy="456.50" r="2.4" fill="#fff" stroke="#000" stroke-width="1.0"/>
<circle cx="173.34" cy="455.00" r="2.4" fill="#fff" stroke="#000" stroke-width="1.0"/>
<circle cx="173.34" cy="453.50" r="2.4" fill="#fff" stroke="#000" stroke-width="1.0"/>
<circle cx="173.34" cy="452.00" r="2.4" fill="#fff" stroke="#000" stroke-width="1.0"/>
<circle cx="173.34" cy="450.50" r="2.4" fill="#fff" stroke="#000" stroke-width="1.0"/>
<circle cx="174.48" cy="449.00" r="2.4" fill="#fff" stroke="#000" stroke-width="1.0"/>
<circle cx="174.76" cy="447.50" r="2.4" fill="#fff" stroke="#000" stroke-width="1.0"/>
<circle cx="175.04" cy="446.00" r="2.4" fill="#fff" stroke="#000" stroke-width="1.0"/>
<circle cx="175.32" cy="444.50" r="2.4" fill="#fff" stroke="#000" stroke-width="1.0"/>
<circle cx="175.60" cy="443.00" r="2.4" fill="#fff" stroke="#000" stroke-width="1.0"/>
<circle cx="175.88" cy="441.50" r="2.4" fill="#fff" stroke="#000" stroke-width="1.0"/>
<circle cx="175.88" cy="440.00" r="2.4" fill="#fff" stroke="#000" stroke-width="1.0"/>
<circle cx="176.44" cy="438.50" r="2.4" fill="#fff" stroke="#000" stroke-width="1.0"/>
<circle cx="177.37" cy="437.00" r="2.4" fill="#fff" stroke="#000" stroke-width="1.0"/>
<circle cx="178.31" cy="435.50" r="2.4" fill="#fff" stroke="#000" stroke-width="1.0"/>
<circle cx="179.24" cy="434.00" r="2.4" fill="#fff" stroke="#000" stroke-width="1.0"/>
<circle cx="180.18" cy="432.50" r="2.4" fill="#fff" stroke="#000" stroke-width="1.0"/>
<circle cx="180.96" cy="431.00" r="2.4" fill="#fff" stroke="#000" stroke-width="1.0"/>
<circle cx="181.72" cy="429.50" r="2.4" fill="#fff" stroke="#000" stroke-width="1.0"/>
<circle cx="182.48" cy="428.00" r="2.4" fill="#fff" stroke="#000" stroke-width="1.0"/>
<circle cx="183.24" cy="426.50" r="2.4" fill="#fff" stroke="#000" stroke-width="1.0"/>
<circle cx="187.48" cy="425.00" r="2.4" fill="#fff" stroke="#000" stroke-width="1.0"/>
<circle cx="188.35" cy="423.50" r="2.4" fill="#fff" stroke="#000" stroke-width="1.0"/>
<circle cx="189.26" cy="422.00" r="2.4" fill="#fff" stroke="#000" stroke-width="1.0"/>
<circle cx="189.26" cy="420.50" r="2.4" fill="#fff" stroke="#000" stroke-width="1.0"/>
<circle cx="189.26" cy="419.00" r="2.4" fill="#fff" stroke="#000" stroke-width="1.0"/>
<circle cx="189.26" cy="417.50" r="2.4" fill="#fff" stroke="#000" stroke-width="1.0"/>
<circle cx="189.47" cy="416.00" r="2.4" fill="#fff" stroke="#000" stroke-width="1.0"/>
<circle cx="190.33" cy="414.50" r="2.4" fill="#fff" stroke="#000" stroke-width="1.0"/>
<circle cx="191.07" cy="413.00" r="2.4" fill="#fff" stroke="#000" stroke-width="1.0"/>
<circle cx="191.81" cy="411.50" r="2.4" fill="#fff" stroke="#000" stroke-width="1.0"/>
<circle cx="193.70" cy="410.00" r="2.4" fill="#fff" stroke="#000" stroke-width="1.0"/>
<circle cx="194.44" cy="408.50" r="2.4" fill="#fff" stroke="#000" stroke-width="1.0"/>
<circle cx="195.18" cy="407.00" r="2.4" fill="#fff" stroke="#000" stroke-width="1.0"/>
<circle cx="196.25" cy="405.50" r="2.4" fill="#fff" stroke="#000" stroke-width="1.0"/>
<circle cx="197.00" cy="404.00" r="2.4" fill="#fff" stroke="#000" stroke-width="1.0"/>
<circle cx="197.75" cy="402.50" r="2.4" fill="#fff" stroke="#000" stroke-width="1.0"/>
<circle cx="198.50" cy="401.00" r="2.4" fill="#fff" stroke="#000" stroke-width="1.0"/>
<circle cx="199.25" cy="399.50" r="2.4" fill="#fff" stroke="#000" stroke-width="1.0"/>
<circle cx="200.00" cy="398.00" r="2.4" fill="#fff" stroke="#000" stroke-width="1.0"/>
<circle cx="201.16" cy="396.50" r="2.4" fill="#fff" stroke="#000" stroke-width="1.0"/>
<circle cx="201.65" cy="395.00" r="2.4" fill="#fff" stroke="#000" stroke-width="1.0"/>
<circle cx="202.91" cy="393.50" r="2.4" fill="#fff" stroke="#000" stroke-width="1.0"/>
<circle cx="204.17" cy="392.00" r="2.4" fill="#fff" stroke="#000" stroke-width="1.0"/>
<circle cx="204.77" cy="390.50" r="2.4" fill="#fff" stroke="#000" stroke-width="1.0"/>
<circle cx="205.38" cy="389.00" r="2.4" fill="#fff" stroke="#000" stroke-width="1.0"/>
<circle cx="205.98" cy="387.50" r="2.4" fill="#fff" stroke="#000" stroke-width="1.0"/>
<circle cx="206.58" cy="386.00" r="2.4" fill="#fff" stroke="#000" stroke-width="1.0"/>
<circle cx="207.19" cy="384.50" r="2.4" fill="#fff" stroke="#000" stroke-width="1.0"/>
<circle cx="207.79" cy="383.00" r="2.4" fill="#fff" stroke="#000" stroke-width="1.0"/>
<circle cx="208.46" cy="381.50" r="2.4" fill="#fff" stroke="#000" stroke-width="1.0"/>
<circle cx="210.18" cy="380.00" r="2.4" fill="#fff" stroke="#000" stroke-width="1.0"/>
<circle cx="210.90" cy="378.50" r="2.4" fill="#fff" stroke="#000" stroke-width="1.0"/>
<circle cx="211.62" cy="377.00" r="2.4" fill="#fff" stroke="#000" stroke-width="1.0"/>
<circle cx="212.35" cy="375.50" r="2.4" fill="#fff" stroke="#000" stroke-width="1.0"/>
<circle cx="213.57" cy="374.00" r="2.4" fill="#fff" stroke="#000" stroke-width="1.0"/>
<circle cx="215.54" cy="372.50" r="2.4" fill="#fff" stroke="#000" stroke-width="1.0"/>
<circle cx="217.52" cy="371.00" r="2.4" fill="#fff" stroke="#000" stroke-width="1.0"/>
<circle cx="217.56" cy="369.50" r="2.4" fill="#fff" stroke="#000" stroke-width="1.0"/>
<circle cx="219.52" cy="368.00" r="2.4" fill="#fff" stroke="#000" stroke-width="1.0"/>
<circle cx="221.49" cy="366.50" r="2.4" fill="#fff" stroke="#000" stroke-width="1.0"/>
<circle cx="223.45" cy="365.00" r="2.4" fill="#fff" stroke="#000" stroke-width="1.0"/>
<circle cx="224.95" cy="363.50" r="2.4" fill="#fff" stroke="#000" stroke-width="1.0"/>
<circle cx="226.45" cy="362.00" r="2.4" fill="#fff" stroke="#000" stroke-width="1.0"/>
<circle cx="227.95" cy="360.50" r="2.4" fill="#fff" stroke="#000" stroke-width="1.0"/>
<circle cx="229.45" cy="359.00" r="2.4" fill="#fff" stroke="#000" stroke-width="1.0"/>
<circle cx="230.95" cy="357.50" r="2.4" fill="#fff" stroke="#000" stroke-width="1.0"/>
<circle cx="232.45" cy="356.00" r="2.4" fill="#fff" stroke="#000" stroke-width="1.0"/>
<circle cx="235.01" cy="354.50" r="2.4" fill="#fff" stroke="#000" stroke-width="1.0"/>
<circle cx="236.51" cy="353.00" r="2.4" fill="#fff" stroke="#000" stroke-width="1.0"/>
<circle cx="238.01" cy="351.50" r="2.4" fill="#fff" stroke="#000" stroke-width="1.0"/>
<circle cx="239.51" cy="350.00" r="2.4" fill="#fff" stroke="#000" stroke-width="1.0"/>
<circle cx="240.67" cy="348.50" r="2.4" fill="#fff" stroke="#000" stroke-width="1.0"/>
<circle cx="243.17" cy="347.00" r="2.4" fill="#fff" stroke="#000" stroke-width="1.0"/>
<circle cx="245.55" cy="345.50" r="2.4" fill="#fff" stroke="#000" stroke-width="1.0"/>
<circle cx="247.69" cy="344.00" r="2.4" fill="#fff" stroke="#000" stroke-width="1.0"/>
<circle cx="249.83" cy="342.50" r="2.4" fill="#fff" stroke="#000" stroke-width="1.0"/>
<circle cx="251.03" cy="341.00" r="2.4" fill="#fff" stroke="#000" stroke-width="1.0"/>
<circle cx="252.23" cy="339.50" r="2.4" fill="#fff" stroke="#000" stroke-width="1.0"/>
<circle cx="254.89" cy="338.00" r="2.4" fill="#fff" stroke="#000" stroke-width="1.0"/>
<circle cx="255.95" cy="336.50" r="2.4" fill="#fff" stroke="#000" stroke-width="1.0"/>
<circle cx="256.95" cy="335.00" r="2.4" fill="#fff" stroke="#000" stroke-width="1.0"/>
<circle cx="257.95" cy="333.50" r="2.4" fill="#fff" stroke="#000" stroke-width="1.0"/>
<circle cx="259.79" cy="332.00" r="2.4" fill="#fff" stroke="#000" stroke-width="1.0"/>
<circle cx="268.00" cy="330.00" r="2.65" fill="#fff" stroke="#000" stroke-width="1.0"/>
<circle cx="290.00" cy="327.50" r="2.65" fill="#fff" stroke="#000" stroke-width="1.0"/>
<circle cx="291.00" cy="326.00" r="2.65" fill="#fff" stroke="#000" stroke-width="1.0"/>
<circle cx="296.00" cy="325.00" r="2.65" fill="#fff" stroke="#000" stroke-width="1.0"/>
<circle cx="302.50" cy="323.75" r="2.65" fill="#fff" stroke="#000" stroke-width="1.0"/>
<circle cx="325.50" cy="321.50" r="2.65" fill="#fff" stroke="#000" stroke-width="1.0"/>
<circle cx="347.50" cy="320.00" r="2.65" fill="#fff" stroke="#000" stroke-width="1.0"/>
<circle cx="362.00" cy="318.60" r="2.65" fill="#fff" stroke="#000" stroke-width="1.0"/>
<circle cx="375.40" cy="317.30" r="2.65" fill="#fff" stroke="#000" stroke-width="1.0"/>
<circle cx="386.80" cy="315.20" r="2.65" fill="#fff" stroke="#000" stroke-width="1.0"/>
<circle cx="389.00" cy="313.50" r="2.65" fill="#fff" stroke="#000" stroke-width="1.0"/>
<circle cx="391.40" cy="311.40" r="2.65" fill="#fff" stroke="#000" stroke-width="1.0"/>
<circle cx="393.00" cy="309.70" r="2.65" fill="#fff" stroke="#000" stroke-width="1.0"/>
</g>
<line x1="255.50" y1="370.50" x2="255.50" y2="505.60" stroke="#000" stroke-width="1.7" />
<line x1="253.00" y1="504.70" x2="447.50" y2="504.70" stroke="#000" stroke-width="1.8" />
<text x="248.60" y="509.20" font-size="11.8" text-anchor="end" font-weight="normal" font-style="normal" >0</text>
<line x1="252.80" y1="478.03" x2="255.50" y2="478.03" stroke="#000" stroke-width="1.5" />
<text x="248.60" y="482.53" font-size="11.8" text-anchor="end" font-weight="normal" font-style="normal" >2</text>
<line x1="252.80" y1="451.36" x2="255.50" y2="451.36" stroke="#000" stroke-width="1.5" />
<text x="248.60" y="455.86" font-size="11.8" text-anchor="end" font-weight="normal" font-style="normal" >4</text>
<line x1="252.80" y1="424.69" x2="255.50" y2="424.69" stroke="#000" stroke-width="1.5" />
<text x="248.60" y="429.19" font-size="11.8" text-anchor="end" font-weight="normal" font-style="normal" >6</text>
<line x1="252.80" y1="398.02" x2="255.50" y2="398.02" stroke="#000" stroke-width="1.5" />
<text x="248.60" y="402.52" font-size="11.8" text-anchor="end" font-weight="normal" font-style="normal" >8</text>
<line x1="252.80" y1="371.35" x2="255.50" y2="371.35" stroke="#000" stroke-width="1.5" />
<text x="248.60" y="375.85" font-size="11.8" text-anchor="end" font-weight="normal" font-style="normal" >10</text>
<text x="214.00" y="437.50" font-size="11.9" text-anchor="middle" font-weight="normal" font-style="normal" transform="rotate(-90 214.00 437.50)" >Rolling velocity</text>
<text x="228.20" y="437.60" font-size="12.4" text-anchor="middle" font-weight="normal" font-style="normal" transform="rotate(-90 228.20 437.60)" >[µm/s]</text>
<defs><pattern id="hatch" width="4" height="4" patternUnits="userSpaceOnUse" patternTransform="rotate(-43)"><rect width="4" height="4" fill="#fff"/><line x1="-1" y1="2" x2="5" y2="2" stroke="#000" stroke-width="2"/></pattern></defs>
<line x1="287.70" y1="448.70" x2="287.70" y2="452.00" stroke="#000" stroke-width="1.5" />
<line x1="284.95" y1="448.70" x2="290.45" y2="448.70" stroke="#000" stroke-width="1.5" />
<line x1="351.30" y1="416.20" x2="351.30" y2="420.00" stroke="#000" stroke-width="1.5" />
<line x1="348.55" y1="416.20" x2="354.05" y2="416.20" stroke="#000" stroke-width="1.5" />
<line x1="415.30" y1="394.30" x2="415.30" y2="401.00" stroke="#000" stroke-width="1.5" />
<line x1="412.55" y1="394.30" x2="418.05" y2="394.30" stroke="#000" stroke-width="1.5" />
<rect x="271.5" y="451.5" width="32.3" height="53.2" fill="#fff" stroke="#000" stroke-width="1.6"/>
<rect x="334.5" y="418.7" width="33.5" height="86" fill="#000"/>
<rect x="399.5" y="400.3" width="31.7" height="104.4" fill="url(#hatch)" stroke="#000" stroke-width="1.6"/>
<line x1="286.70" y1="366.50" x2="417.50" y2="366.50" stroke="#000" stroke-width="2.5" />
<line x1="353.70" y1="387.20" x2="417.50" y2="387.20" stroke="#000" stroke-width="2.5" />
<line x1="286.70" y1="411.20" x2="350.00" y2="411.20" stroke="#000" stroke-width="2.5" />
<text x="353.90" y="366.60" font-size="22" text-anchor="middle" font-weight="bold" font-style="normal" stroke="#000" stroke-width="0.7">#</text>
<text x="382.20" y="387.30" font-size="22" text-anchor="middle" font-weight="bold" font-style="normal" stroke="#000" stroke-width="0.7">#</text>
<text x="318.20" y="411.30" font-size="22" text-anchor="middle" font-weight="bold" font-style="normal" stroke="#000" stroke-width="0.7">#</text>
<text x="286.90" y="522.10" font-size="18.3" text-anchor="end" transform="rotate(-30 286.90 522.10)">WT</text>
<text x="309.50" y="542.40" font-size="16.8" text-anchor="start" transform="rotate(-29 309.50 542.40)" font-style="italic">Plcg2<tspan font-size="11.1" dy="-6.0" dx="0.5" letter-spacing="0.6">-/-</tspan></text>
<text x="390.00" y="537.00" font-size="16.8" text-anchor="start" transform="rotate(-29.5 390.00 537.00)" font-style="italic">Syk<tspan font-size="11.1" dy="-6.0" dx="0.5" letter-spacing="0.6">-/-</tspan></text>
<text x="0.50" y="647.80" font-size="33" text-anchor="start" font-weight="bold" font-style="normal" stroke="#000" stroke-width="0.5">C</text>
<line x1="120.10" y1="629.70" x2="120.10" y2="861.40" stroke="#000" stroke-width="2.8" />
<line x1="115.80" y1="860.00" x2="449.00" y2="860.00" stroke="#000" stroke-width="3" />
<text x="108.40" y="866.90" font-size="19" text-anchor="end" font-weight="normal" font-style="normal" >0</text>
<line x1="115.80" y1="802.75" x2="120.10" y2="802.75" stroke="#000" stroke-width="2.6" />
<text x="108.40" y="809.65" font-size="19" text-anchor="end" font-weight="normal" font-style="normal" >500</text>
<line x1="115.80" y1="745.50" x2="120.10" y2="745.50" stroke="#000" stroke-width="2.6" />
<text x="108.40" y="752.40" font-size="19" text-anchor="end" font-weight="normal" font-style="normal" >1000</text>
<line x1="115.80" y1="688.25" x2="120.10" y2="688.25" stroke="#000" stroke-width="2.6" />
<text x="108.40" y="695.15" font-size="19" text-anchor="end" font-weight="normal" font-style="normal" >1500</text>
<line x1="115.80" y1="631.00" x2="120.10" y2="631.00" stroke="#000" stroke-width="2.6" />
<text x="108.40" y="637.90" font-size="19" text-anchor="end" font-weight="normal" font-style="normal" >2000</text>
<text x="30.60" y="745.50" font-size="20" text-anchor="middle" font-weight="normal" font-style="normal" transform="rotate(-90 30.60 745.50)" >Adherent cells</text>
<text x="54.3" y="745.7" font-size="20.4" text-anchor="middle" transform="rotate(-90 54.3 745.7)">[#/mm<tspan font-size="13.5" dy="-8">2</tspan><tspan dy="8">]</tspan></text>
<line x1="175.00" y1="709.30" x2="175.00" y2="720.00" stroke="#000" stroke-width="2.9" />
<line x1="170.75" y1="709.30" x2="179.25" y2="709.30" stroke="#000" stroke-width="2.9" />
<line x1="229.20" y1="701.20" x2="229.20" y2="710.00" stroke="#000" stroke-width="2.9" />
<line x1="224.95" y1="701.20" x2="233.45" y2="701.20" stroke="#000" stroke-width="2.9" />
<line x1="338.70" y1="718.00" x2="338.70" y2="733.00" stroke="#000" stroke-width="2.9" />
<line x1="334.45" y1="718.00" x2="342.95" y2="718.00" stroke="#000" stroke-width="2.9" />
<line x1="393.30" y1="795.20" x2="393.30" y2="802.00" stroke="#000" stroke-width="2.9" />
<line x1="389.05" y1="795.20" x2="397.55" y2="795.20" stroke="#000" stroke-width="2.9" />
<rect x="151.5" y="718.5" width="47" height="142" fill="#000"/>
<rect x="206" y="708" width="46.5" height="152.5" fill="#000"/>
<rect x="316.5" y="731.5" width="44" height="128.5" fill="#fff" stroke="#000" stroke-width="3"/>
<rect x="371.5" y="800.2" width="43.3" height="59.8" fill="#fff" stroke="#000" stroke-width="3"/>
<line x1="121.5" y1="819.4" x2="449" y2="819.4" stroke="#000" stroke-width="2.6" stroke-dasharray="3 2.4"/>
<line x1="115.80" y1="860.00" x2="449.00" y2="860.00" stroke="#000" stroke-width="3" />
<line x1="346.00" y1="686.50" x2="401.50" y2="686.50" stroke="#000" stroke-width="2.6" />
<text x="373.70" y="685.30" font-size="25" text-anchor="middle" font-weight="bold" font-style="normal" stroke="#000" stroke-width="0.7">#</text>
<text x="185.90" y="887.60" font-size="20.5" text-anchor="end" transform="rotate(-30 185.90 887.60)">WT</text>
<text x="190.30" y="914.50" font-size="21" text-anchor="start" transform="rotate(-30 190.30 914.50)" font-style="italic">Plcg2<tspan font-size="13.9" dy="-7.6" dx="0.5" letter-spacing="1.0">-/-</tspan></text>
<text x="353.80" y="882.50" font-size="20.5" text-anchor="end" transform="rotate(-30 353.80 882.50)">WT</text>
<text x="349.50" y="912.00" font-size="21" text-anchor="start" transform="rotate(-30 349.50 912.00)" font-style="italic">Plcg2<tspan font-size="13.9" dy="-7.6" dx="0.5" letter-spacing="1.0">-/-</tspan></text>
<line x1="313.70" y1="917.70" x2="417.50" y2="917.70" stroke="#000" stroke-width="2.4" />
<text x="365.80" y="946.00" font-size="23.3" text-anchor="middle" font-weight="bold" font-style="normal" stroke="#000" stroke-width="0.3">PTx</text>
</g>
</svg>
</body></html>
